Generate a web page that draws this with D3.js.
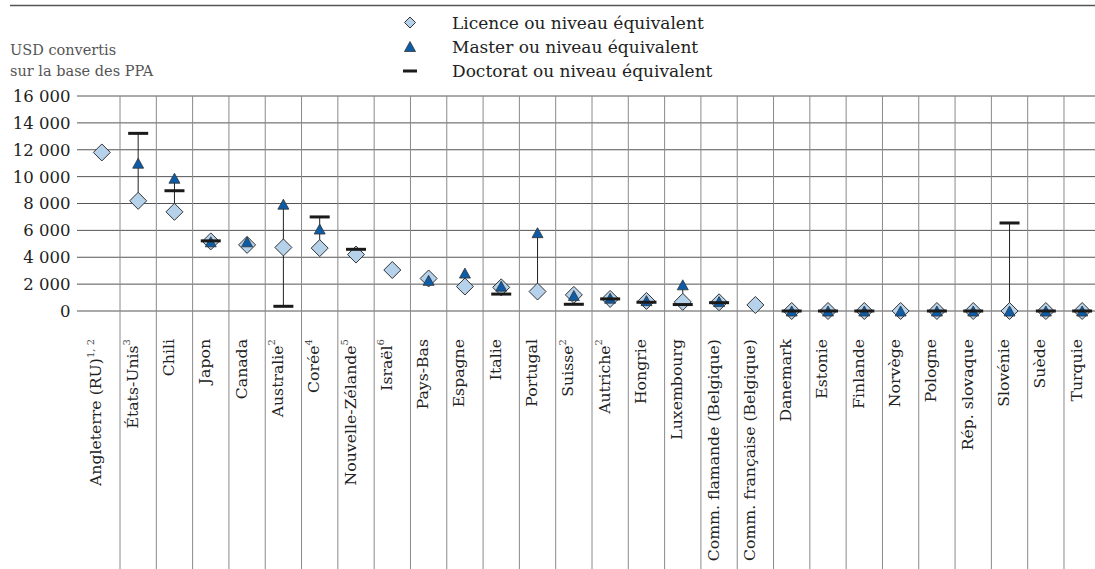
<!DOCTYPE html>
<html><head><meta charset="utf-8">
<script src="https://cdn.jsdelivr.net/npm/d3@7"></script>
<style>
html,body{margin:0;padding:0;background:#fff;}
svg{display:block;font-family:"DejaVu Serif",serif;}
</style></head>
<body><svg id="c" width="1095" height="569"></svg>
<script>
const categories = ["Angleterre (RU)","États-Unis","Chili","Japon","Canada","Australie","Corée","Nouvelle-Zélande","Israël","Pays-Bas","Espagne","Italie","Portugal","Suisse","Autriche","Hongrie","Luxembourg","Comm. flamande (Belgique)","Comm. française (Belgique)","Danemark","Estonie","Finlande","Norvège","Pologne","Rép. slovaque","Slovénie","Suède","Turquie"];
const notes = ["1, 2","3","","","","2","4","5","6","","","","","2","2","","","","","","","","","","","","",""];
const licence = [11800,8200,7380,5180,4920,4730,4680,4200,3050,2420,1820,1760,1450,1200,900,750,680,650,450,0,0,0,0,0,0,0,0,0];
const master = [null,11000,9880,5150,5150,7950,6100,null,null,2280,2820,1850,5830,1150,950,770,1950,700,null,0,0,0,0,0,0,0,0,0];
const doctorat = [null,13220,8950,5220,null,350,7000,4590,null,null,null,1260,null,500,900,650,480,620,null,0,0,0,null,0,0,6550,0,0];
const yTicks = [0,2000,4000,6000,8000,10000,12000,14000,16000];
const legendLabels = ["Licence ou niveau équivalent","Master ou niveau équivalent","Doctorat ou niveau équivalent"];
const unitLines = ["USD convertis","sur la base des PPA"];

const svg = d3.select("#c");
const W = 1095, H = 569;
const x = d3.scaleBand().domain(categories).range([83.7, 1100.3]);
const y = d3.scaleLinear().domain([0,16000]).range([311,96]);
const fmt = d3.formatLocale({decimal:",",thousands:"\u00a0",grouping:[3],currency:["",""]}).format(",");

const lightBlue = "#b6d1ea", darkBlue = "#0d5ca8", stroke = "#333";

// top rule
svg.append("line").attr("x1",10).attr("x2",W).attr("y1",5.5).attr("y2",5.5)
  .attr("stroke","#555").attr("stroke-width",1.6);

// unit label
svg.append("g").selectAll("text").data(unitLines).join("text")
  .attr("x",10).attr("y",(d,i)=>54.5+i*21.5).attr("font-size",14.5).attr("fill","#555").text(d=>d);

// horizontal gridlines
svg.append("g").selectAll("line").data(yTicks).join("line")
  .attr("x1",77).attr("x2",W).attr("y1",d=>y(d)).attr("y2",d=>y(d))
  .attr("stroke","#555").attr("stroke-width",1);

// y tick labels
svg.append("g").selectAll("text").data(yTicks).join("text")
  .attr("x",70.5).attr("y",d=>y(d)).attr("dy","0.36em").attr("text-anchor","end")
  .attr("font-size",16.5).attr("fill","#222").text(d=>fmt(d));

// vertical gridlines between categories
svg.append("g").selectAll("line").data(categories.slice(1)).join("line")
  .attr("x1",d=>x(d)).attr("x2",d=>x(d)).attr("y1",y(16000)).attr("y2",H)
  .attr("stroke","#8a8a8a").attr("stroke-width",1);

// x labels
const xl = svg.append("g").selectAll("text").data(categories).join("text")
  .attr("transform",d=>`translate(${x(d)+x.bandwidth()/2-0.5},339) rotate(-90)`)
  .attr("text-anchor","end").attr("font-size",15.7).attr("fill","#222");
xl.append("tspan").text(d=>d);
xl.append("tspan").attr("font-size",10).attr("dy","-0.75em").attr("fill","#444")
  .text((d,i)=>notes[i]);

// points
const rows = categories.map((c,i)=>({c, l:licence[i], m:master[i], d:doctorat[i]}));
const cx = c => x(c)+x.bandwidth()/2;

svg.append("g").selectAll("line").data(rows).join("line")
  .attr("x1",r=>cx(r.c)).attr("x2",r=>cx(r.c))
  .attr("y1",r=>y(d3.min([r.l,r.m,r.d].filter(v=>v!=null))))
  .attr("y2",r=>y(d3.max([r.l,r.m,r.d].filter(v=>v!=null))))
  .attr("stroke","#222").attr("stroke-width",1);

function diamondPath(cx0,cy0,r){return `M${cx0},${cy0-r}L${cx0+r},${cy0}L${cx0},${cy0+r}L${cx0-r},${cy0}Z`;}
function triPath(cx0,cy0,w,h){return `M${cx0},${cy0-h/2}L${cx0+w/2},${cy0+h/2}L${cx0-w/2},${cy0+h/2}Z`;}

svg.append("g").selectAll("path").data(rows.filter(r=>r.l!=null)).join("path")
  .attr("d",r=>diamondPath(cx(r.c),y(r.l),8.5))
  .attr("fill",lightBlue).attr("stroke",stroke).attr("stroke-width",1);

svg.append("g").selectAll("path").data(rows.filter(r=>r.m!=null)).join("path")
  .attr("d",r=>triPath(cx(r.c),y(r.m),11,10))
  .attr("fill",darkBlue).attr("stroke",stroke).attr("stroke-width",0.8);

svg.append("g").selectAll("rect").data(rows.filter(r=>r.d!=null)).join("rect")
  .attr("x",r=>cx(r.c)-10).attr("y",r=>y(r.d)-1.5).attr("width",20).attr("height",3)
  .attr("fill","#1a1a1a");

// legend
const lg = svg.append("g");
const lx = 410, ly = [22.5,46.5,71];
lg.append("path").attr("d",diamondPath(lx,ly[0],5.5)).attr("fill",lightBlue).attr("stroke",stroke).attr("stroke-width",1);
lg.append("path").attr("d",triPath(lx,ly[1],11,10)).attr("fill",darkBlue).attr("stroke",stroke).attr("stroke-width",0.8);
lg.append("rect").attr("x",lx-7).attr("y",ly[2]-1.5).attr("width",14).attr("height",3).attr("fill","#1a1a1a");
lg.selectAll("text").data(legendLabels).join("text")
  .attr("x",452).attr("y",(d,i)=>ly[i]).attr("dy","0.36em").attr("font-size",17).attr("fill","#222").text(d=>d);
</script></body></html>
